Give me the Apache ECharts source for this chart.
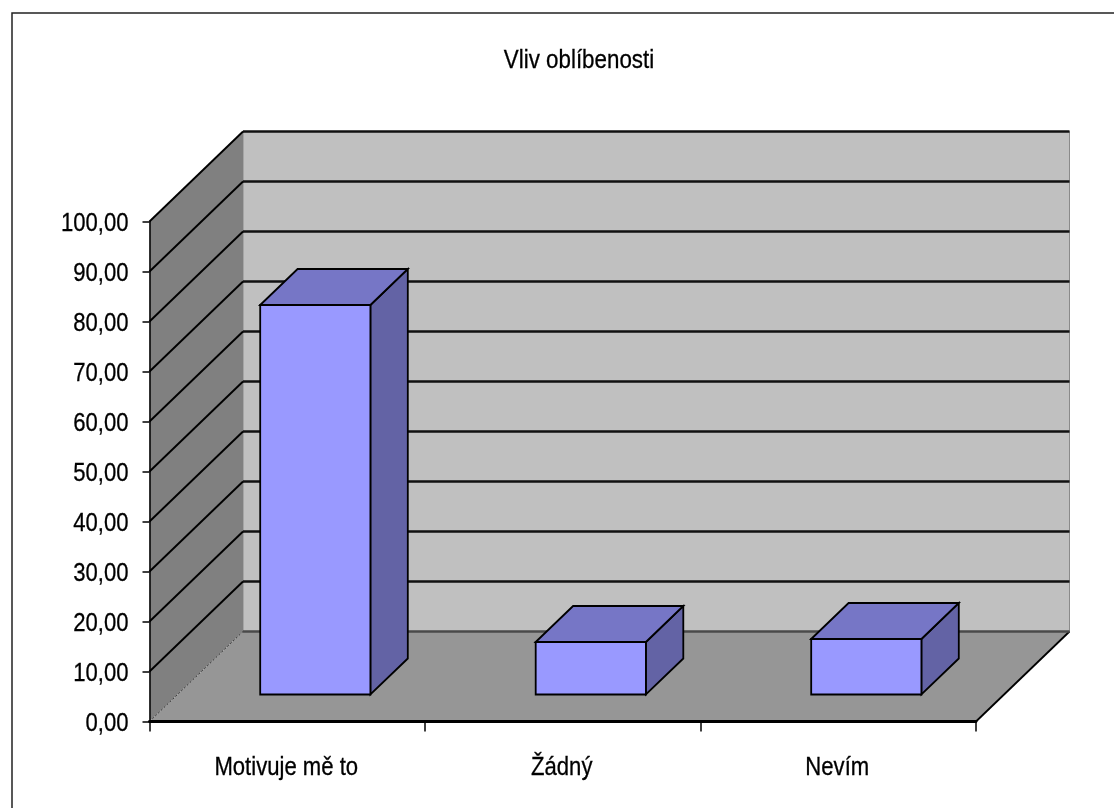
<!DOCTYPE html>
<html>
<head>
<meta charset="utf-8">
<script src="https://cdn.jsdelivr.net/npm/echarts@6/dist/echarts.min.js"></script>
<style>
  html, body { margin: 0; padding: 0; background: #ffffff; }
  #chart { width: 1114px; height: 808px; }
</style>
</head>
<body>
<div id="chart"></div>
<script>
// ---- data ----
const chartTitle = 'Vliv oblíbenosti';
const categories = ['Motivuje mě to', 'Žádný', 'Nevím'];
const values = [77.9, 10.5, 11.1];
const yTicks = [0, 10, 20, 30, 40, 50, 60, 70, 80, 90, 100];
const yTickLabels = ['0,00', '10,00', '20,00', '30,00', '40,00', '50,00',
                     '60,00', '70,00', '80,00', '90,00', '100,00'];

// ---- 3D look (oblique projection of the plot box) ----
const DEPTH_X = 93.5;   // horizontal shift of the back wall, px
const DEPTH_Y = -90;    // vertical shift of the back wall, px
const BAR_FRONT = 0.3;  // bar front face, fraction of the depth
const BAR_BACK = 0.7;   // bar back face, fraction of the depth
const BAR_WIDTH = 0.4;  // bar width, fraction of the category band

// narrow sans text: regular face squeezed horizontally
const FONT_FAMILY = '"Liberation Sans", Arial, sans-serif';
const FONT_SIZE = 26;
const TEXT_SQUEEZE = 0.85;

const yMin = yTicks[0];
const yMax = yTicks[yTicks.length - 1];

const chart = echarts.init(document.getElementById('chart'), null, { renderer: 'canvas' });

function squeezedText(x, y, text, align) {
  return {
    type: 'text', x: x, y: y, scaleX: TEXT_SQUEEZE,
    style: {
      x: 0, y: 0, text: text, align: align, verticalAlign: 'middle',
      fontFamily: FONT_FAMILY, fontSize: FONT_SIZE, fill: '#000',
      stroke: '#000', lineWidth: 0.3
    }
  };
}

// walls and floor of the box
function renderWalls(params, api) {
  const cs = params.coordSys;
  const x0 = cs.x, x1 = cs.x + cs.width;
  const yT = api.coord([0, yMax])[1];
  const yB = api.coord([0, yMin])[1];
  return {
    type: 'group',
    children: [
      { type: 'polygon', shape: { points: [[x0 + DEPTH_X, yT + DEPTH_Y], [x1 + DEPTH_X, yT + DEPTH_Y], [x1 + DEPTH_X, yB + DEPTH_Y], [x0 + DEPTH_X, yB + DEPTH_Y]] },
        style: { fill: '#c0c0c0', stroke: '#8a8a8a', lineWidth: 1 } },
      { type: 'polygon', shape: { points: [[x0, yT], [x0 + DEPTH_X, yT + DEPTH_Y], [x0 + DEPTH_X, yB + DEPTH_Y], [x0, yB]] },
        style: { fill: '#808080' } },
      { type: 'polygon', shape: { points: [[x0, yB], [x0 + DEPTH_X, yB + DEPTH_Y], [x1 + DEPTH_X, yB + DEPTH_Y], [x1, yB]] },
        style: { fill: '#969696' } },
      { type: 'line', shape: { x1: x1, y1: yB, x2: x1 + DEPTH_X, y2: yB + DEPTH_Y },
        style: { stroke: '#000', lineWidth: 1.8 } }
    ]
  };
}

// gridlines along the left wall and across the back wall, plus value labels
function renderGrid(params, api) {
  const cs = params.coordSys;
  const x0 = cs.x, x1 = cs.x + cs.width;
  const v = api.value(1);
  const y = api.coord([0, v])[1];
  const isFloor = v === yMin;
  return {
    type: 'group',
    children: [
      { type: 'line', shape: { x1: x0, y1: y, x2: x0 + DEPTH_X, y2: y + DEPTH_Y },
        style: { stroke: isFloor ? '#333' : '#000', lineWidth: isFloor ? 1 : 1.9, lineDash: isFloor ? [2, 2] : null } },
      { type: 'line', shape: { x1: x0 + DEPTH_X, y1: y + DEPTH_Y, x2: x1 + DEPTH_X, y2: y + DEPTH_Y },
        style: { stroke: isFloor ? '#4a4a4a' : '#111', lineWidth: 2.5 } },
      squeezedText(x0 - 21, y + 2, yTickLabels[yTicks.indexOf(v)], 'right')
    ]
  };
}

// category names under the floor
function renderCategoryLabel(params, api) {
  const idx = api.value(0);
  const p = api.coord([idx, yMin]);
  return squeezedText(p[0] - 1, p[1] + 46, categories[idx], 'center');
}

// 3D bar: front face, top and right side
function renderBar(params, api) {
  const idx = api.value(0);
  const v = api.value(1);
  const band = api.size([1, 0])[0];
  const w = band * BAR_WIDTH;
  const top = api.coord([idx, v]);
  const base = api.coord([idx, yMin]);
  const fx = DEPTH_X * BAR_FRONT, fy = DEPTH_Y * BAR_FRONT;
  const bx = DEPTH_X * BAR_BACK, by = DEPTH_Y * BAR_BACK;
  const l = top[0] - w / 2 + fx, r = top[0] + w / 2 + fx;
  const t = top[1] + fy, b = base[1] + fy;
  const ddx = bx - fx, ddy = by - fy;
  const edge = { stroke: '#000', lineWidth: 1.8, lineJoin: 'miter' };
  return {
    type: 'group',
    children: [
      { type: 'polygon', shape: { points: [[r, t], [r + ddx, t + ddy], [r + ddx, b + ddy], [r, b]] },
        style: Object.assign({ fill: '#6363a5' }, edge) },
      { type: 'polygon', shape: { points: [[l, t], [l + ddx, t + ddy], [r + ddx, t + ddy], [r, t]] },
        style: Object.assign({ fill: '#7676c6' }, edge) },
      { type: 'rect', shape: { x: l, y: t, width: r - l, height: b - t },
        style: Object.assign({ fill: '#9999ff' }, edge) }
    ]
  };
}

const option = {
  backgroundColor: '#ffffff',
  animation: false,
  grid: { left: 149.5, right: 138, top: 221.5, bottom: 86.5, containLabel: false },
  xAxis: {
    type: 'category',
    data: categories,
    axisLine: { show: true, lineStyle: { color: '#000', width: 2.8 } },
    axisTick: { show: true, length: 10, lineStyle: { color: '#000', width: 1.5 } },
    axisLabel: { show: false },
    splitLine: { show: false },
    z: 10
  },
  yAxis: {
    type: 'value',
    min: yMin,
    max: yMax,
    interval: 10,
    axisLine: { show: true, lineStyle: { color: '#000', width: 1.5 } },
    axisTick: { show: true, length: 7, lineStyle: { color: '#000', width: 1.5 } },
    axisLabel: { show: false },
    splitLine: { show: false },
    z: 10
  },
  graphic: [
    { type: 'rect', z: 100, silent: true,
      shape: { x: 12, y: 13, width: 1200, height: 900 },
      style: { fill: 'none', stroke: '#222', lineWidth: 1.5 } },
    { type: 'text', z: 100, x: 579, y: 61, scaleX: TEXT_SQUEEZE + 0.01,
      style: { x: 0, y: 0, text: chartTitle, align: 'center', verticalAlign: 'middle',
               fontFamily: FONT_FAMILY, fontSize: FONT_SIZE, fill: '#000',
               stroke: '#000', lineWidth: 0.3 } }
  ],
  series: [
    { type: 'custom', name: 'walls', renderItem: renderWalls, data: [[0, yMax]], clip: false, silent: true, z: 1 },
    { type: 'custom', name: 'grid', renderItem: renderGrid, data: yTicks.map(v => [0, v]), clip: false, silent: true, z: 2 },
    { type: 'custom', name: 'bars', renderItem: renderBar, data: values.map((v, i) => [i, v]), clip: false, z: 3 },
    { type: 'custom', name: 'categoryLabels', renderItem: renderCategoryLabel, data: categories.map((c, i) => [i, yMin]), clip: false, silent: true, z: 4 }
  ]
};

chart.setOption(option);
</script>
</body>
</html>
